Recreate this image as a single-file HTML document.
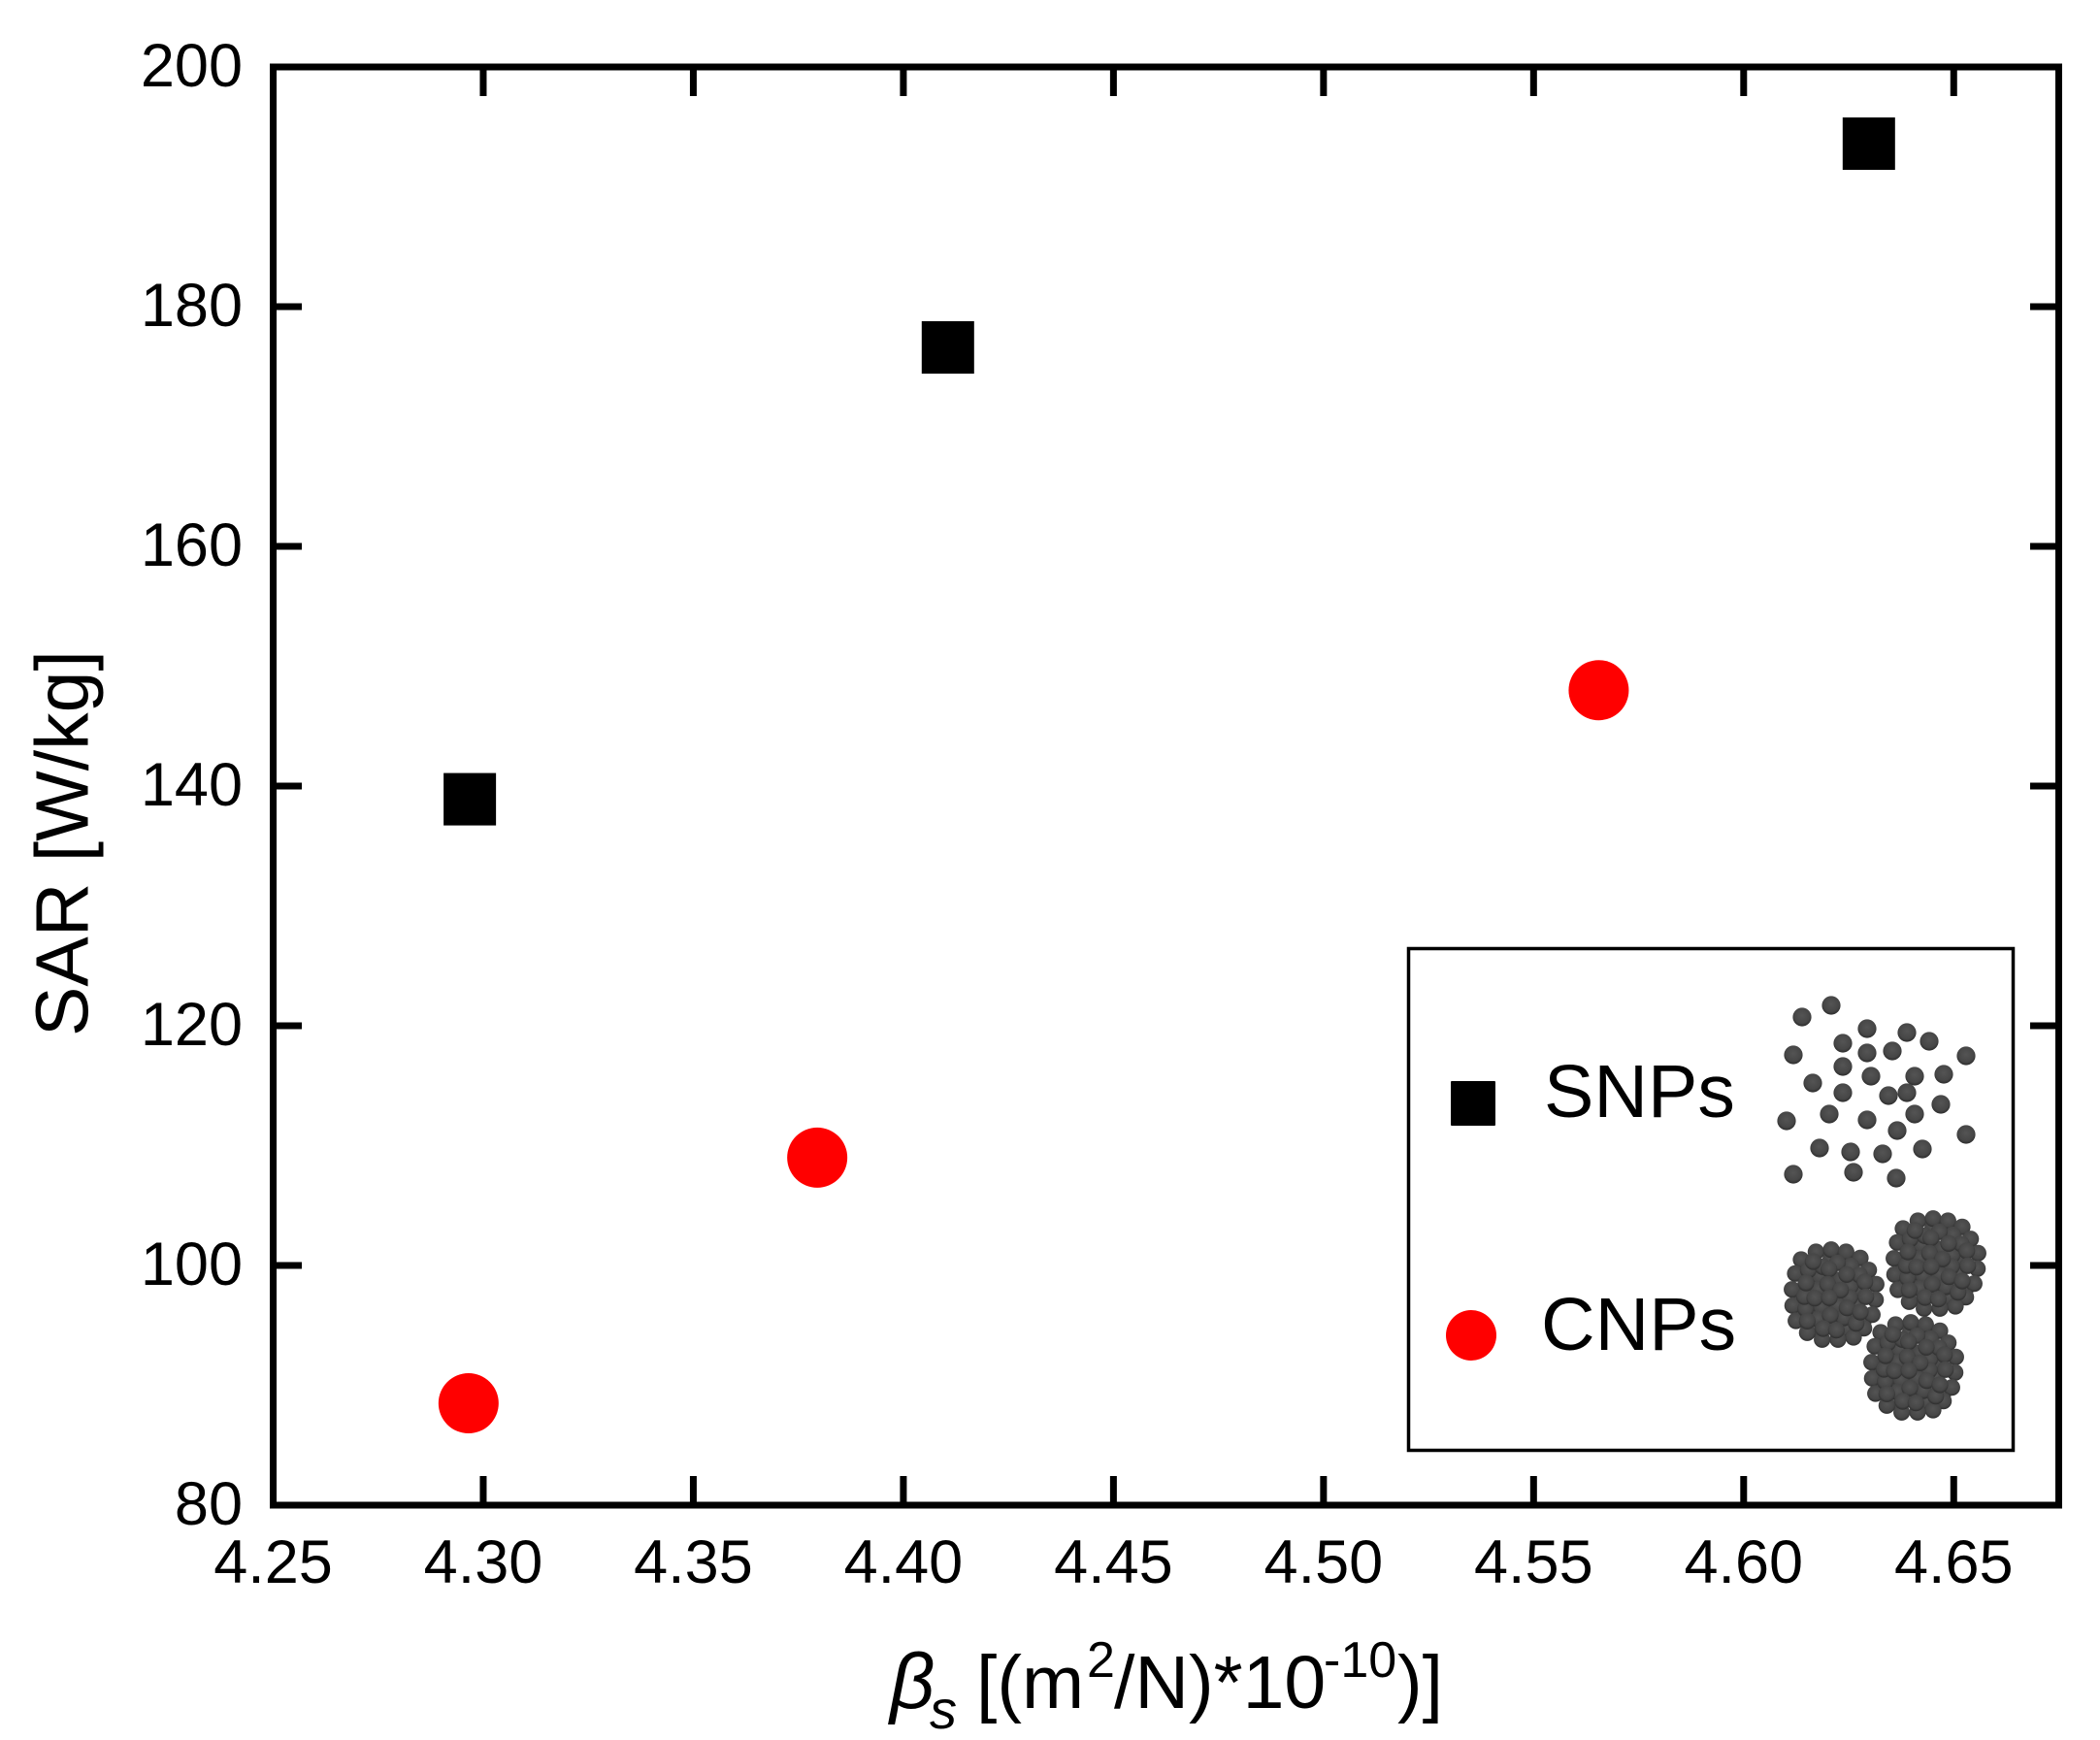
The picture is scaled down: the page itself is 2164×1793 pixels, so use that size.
<!DOCTYPE html>
<html lang="en">
<head>
<meta charset="utf-8">
<title>SAR vs adiabatic compressibility</title>
<style>
html,body{margin:0;padding:0;background:#fff;}
svg{display:block;}
text{font-family:"Liberation Sans",Arial,sans-serif;fill:#000;}
</style>
</head>
<body>
<svg id="chart" xmlns="http://www.w3.org/2000/svg" width="2164" height="1793" viewBox="0 0 2164 1793">
  <defs>
    <radialGradient id="sphere" cx="50%" cy="42%" r="58%">
      <stop offset="0%" stop-color="#545454"/>
      <stop offset="72%" stop-color="#464646"/>
      <stop offset="100%" stop-color="#2c2c2c"/>
    </radialGradient>
  </defs>
  <rect width="2164" height="1793" fill="#ffffff"/>
  <g id="ticks"></g>
  <rect x="281.5" y="69" width="1840" height="1482" fill="none" stroke="#000" stroke-width="7"/>
  <g id="xlabels" font-size="63" text-anchor="middle"></g>
  <g id="ylabels" font-size="63" text-anchor="end"></g>
  <text transform="translate(90.5 1068) rotate(-90)" font-size="77">SAR [W/kg]</text>
  <text font-size="77" y="1760"><tspan x="917" font-size="81" font-style="italic">β</tspan><tspan x="958" y="1781" font-size="56" font-style="italic">s</tspan><tspan x="1006" y="1760">[(m</tspan><tspan x="1120" y="1728" font-size="52">2</tspan><tspan x="1148" y="1760">/N)*10</tspan><tspan x="1364" y="1728" font-size="52">-10</tspan><tspan x="1440" y="1760">)]</tspan></text>
  <g id="marks"></g>
  <g>
    <rect x="1451.5" y="977.5" width="623" height="517" fill="#fff" stroke="#000" stroke-width="3.5"/>
    <rect x="1495" y="1114" width="46" height="46" rx="1" fill="#000"/>
    <text x="1591" y="1151" font-size="77">SNPs</text>
    <circle cx="1516" cy="1376" r="26" fill="#ff0000"/>
    <text x="1588" y="1391" font-size="77">CNPs</text>
    <g id="snpArt"></g>
    <g id="cnpArt"></g>
  </g>
</svg>
<script>
var xTicks = [4.25, 4.30, 4.35, 4.40, 4.45, 4.50, 4.55, 4.60, 4.65];
var xTickLabels = ["4.25", "4.30", "4.35", "4.40", "4.45", "4.50", "4.55", "4.60", "4.65"];
var yTicks = [80, 100, 120, 140, 160, 180, 200];
var yTickLabels = ["80", "100", "120", "140", "160", "180", "200"];
var snpBeta = [4.2968, 4.4106, 4.6298];
var snpSar = [138.9, 176.6, 193.6];
var cnpBeta = [4.2965, 4.3795, 4.5655];
var cnpSar = [88.5, 109.0, 148.0];

var NS = "http://www.w3.org/2000/svg";
function xScale(v) { return 281.5 + (v - 4.25) / (4.675 - 4.25) * 1840; }
function yScale(v) { return 1551 - (v - 80) / (200 - 80) * 1482; }
function make(tag, parent) {
  var el = document.createElementNS(NS, tag);
  parent.appendChild(el);
  return el;
}
function line(parent, x1, y1, x2, y2) {
  var l = make("line", parent);
  l.setAttribute("x1", x1);
  l.setAttribute("y1", y1);
  l.setAttribute("x2", x2);
  l.setAttribute("y2", y2);
  l.setAttribute("stroke", "#000");
  l.setAttribute("stroke-width", "7");
  return l;
}

var tickGroup = document.getElementById("ticks");
var xLabelGroup = document.getElementById("xlabels");
var yLabelGroup = document.getElementById("ylabels");
xTicks.forEach(function (v, i) {
  var px = xScale(v);
  if (i > 0) {
    var bottom = line(tickGroup, px, 1551, px, 1521);
    
    
    var top = line(tickGroup, px, 69, px, 99);
    
    
  }
  var t = make("text", xLabelGroup);
  
  
  t.setAttribute("x", px);
  t.setAttribute("y", 1631);
  t.textContent = xTickLabels[i];
});
yTicks.forEach(function (v, i) {
  var py = yScale(v);
  if (i > 0 && i < yTicks.length - 1) {
    var left = line(tickGroup, 281.5, py, 311, py);
    
    
    var right = line(tickGroup, 2121.5, py, 2092, py);
    
    
  }
  var t = make("text", yLabelGroup);
  
  
  t.setAttribute("x", 250);
  t.setAttribute("y", py + 20);
  t.textContent = yTickLabels[i];
});

var marks = document.getElementById("marks");
snpBeta.forEach(function (b, i) {
  var r = make("rect", marks);
  
  
  r.setAttribute("x", xScale(b) - 27);
  r.setAttribute("y", yScale(snpSar[i]) - 27);
  r.setAttribute("width", 54);
  r.setAttribute("height", 54);
  r.setAttribute("fill", "#000");
});
cnpBeta.forEach(function (b, i) {
  var c = make("circle", marks);
  
  
  c.setAttribute("cx", xScale(b));
  c.setAttribute("cy", yScale(cnpSar[i]));
  c.setAttribute("r", 31);
  c.setAttribute("fill", "#ff0000");
});

/* decorative legend artwork */
var looseSpheres = [[1887,1036],[1857,1048],[1924,1060],[1965,1064],[1988,1073],[1899,1075],[1924,1085],[1950,1083],[1848,1087],[2026,1088],[1899,1099],[1928,1109],[1973,1109],[2003,1107],[1868,1116],[1899,1126],[1946,1129],[1965,1126],[2000,1138],[1885,1148],[1924,1154],[1973,1148],[1841,1155],[1955,1165],[2026,1169],[1875,1183],[1907,1187],[1940,1189],[1981,1184],[1848,1210],[1910,1208],[1954,1214]];
var snpArt = document.getElementById("snpArt");
looseSpheres.forEach(function (p) {
  var c = make("circle", snpArt);
  
  
  c.setAttribute("cx", p[0]);
  c.setAttribute("cy", p[1]);
  c.setAttribute("r", 9.6);
  c.setAttribute("fill", "url(#sphere)");
});
var clusterMotif = [[180,190],[170,130],[245,170],[200,140],[110,130],[170,200],[200,200],[150,190],[250,215],[70,190],[75,240],[180,285],[220,290],[120,290],[270,270],[250,140],[170,75],[205,75],[120,120],[240,250],[160,225],[110,240],[124,54],[171,47],[217,54],[261,73],[78,78],[232,97],[287,110],[60,121],[190,88],[310,154],[50,170],[308,202],[52,220],[298,248],[62,267],[272,290],[240,318],[192,325],[143,325],[97,304],[135,130],[230,160],[130,170],[228,195],[140,225],[190,220],[210,258],[130,262],[100,110],[258,125],[92,230],[88,192],[248,275],[145,100],[115,84],[164,107],[219,124],[93,150],[275,147],[160,154],[200,172],[120,197],[165,196],[278,193],[220,227],[97,268],[168,250],[261,240],[146,291],[187,296]];
var clusterOffsets = [[0,0],[105,-32],[82,75]];
var cnpArt = document.getElementById("cnpArt");
clusterOffsets.forEach(function (o) {
  clusterMotif.forEach(function (p) {
    var c = make("circle", cnpArt);
    
    
    c.setAttribute("cx", 1830 + p[0] / 3 + o[0]);
    c.setAttribute("cy", 1272 + p[1] / 3 + o[1]);
    c.setAttribute("r", 8.6);
    c.setAttribute("fill", "url(#sphere)");
  });
});
</script>
</body>
</html>
